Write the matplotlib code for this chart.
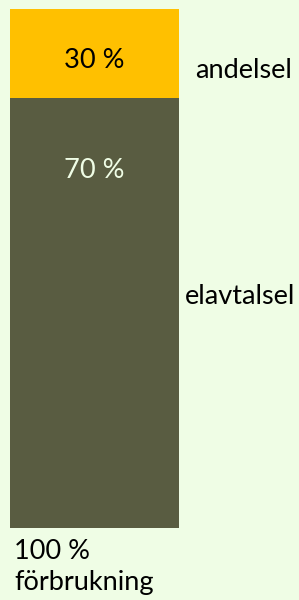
import matplotlib
matplotlib.use("Agg")
import matplotlib.pyplot as plt

# Data
segments = ["elavtalsel", "andelsel"]
share_labels = ["70 %", "30 %"]
segment_heights = [82.85, 17.15]   # visual heights of the segments (as drawn)
colors = ["#595C41", "#FFC000"]
label_colors = ["#EFFDE5", "#000000"]
total_label = "100 %\nförbrukning"

BG = "#EFFDE5"
W, H = 299, 600
fig = plt.figure(figsize=(W / 100, H / 100), dpi=100, facecolor=BG)
ax = fig.add_axes([10 / W, (H - 528) / H, 169 / W, 519 / H])
ax.set_facecolor(BG)
ax.set_xlim(-0.5, 0.5)
ax.set_ylim(0, sum(segment_heights))
ax.axis("off")

font = "Lato"
FS = 19.5
bottom = 0
for h, c, lab, lc, name in zip(segment_heights, colors, share_labels, label_colors, segments):
    ax.bar(0, h, width=1.0, bottom=bottom, color=c, linewidth=0)
    top = bottom + h
    ax.annotate(lab, xy=(0, top), xytext=(0, -(60 - 9) if name == "andelsel" else -(170 - 98)),
                textcoords="offset pixels", ha="center", va="center",
                fontsize=FS, color=lc, family=font)
    bottom = top

# right-side category labels
fig.text(244 / W, 1 - 70 / H, "andelsel", ha="center", va="center", fontsize=FS, family=font, color="#000000")
fig.text(240 / W, 1 - 297 / H, "elavtalsel", ha="center", va="center", fontsize=FS, family=font, color="#000000")
# total label
fig.text(14 / W, 1 - 567 / H, total_label, ha="left", va="center", fontsize=FS, family=font,
         color="#000000", linespacing=1.32)

fig.savefig("out.png", dpi=100, facecolor=BG)
